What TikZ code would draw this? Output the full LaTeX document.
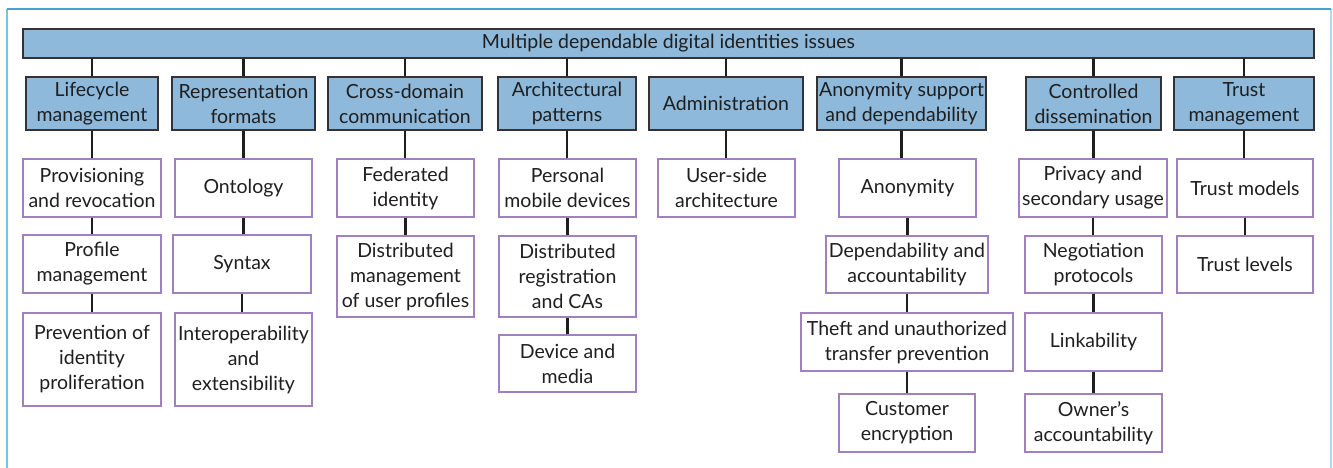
\documentclass[tikz,border=0pt]{standalone}
\usepackage{fontspec}
\setmainfont{Lato}
\definecolor{catfill}{RGB}{142,185,218}
\definecolor{catline}{RGB}{50,50,55}
\definecolor{leafline}{RGB}{160,128,190}
\definecolor{wire}{RGB}{30,30,32}
\definecolor{frametop}{RGB}{70,160,215}
\definecolor{frameside}{RGB}{120,195,230}
\tikzset{
  base/.style={rectangle, inner sep=0pt, align=center, text=black!88,
    font=\fontsize{19.5}{25}\selectfont},
  catbox/.style={base, draw=catline, fill=catfill, line width=1.1pt},
  leafbox/.style={base, draw=leafline, fill=white, line width=1.1pt},
  wirestyle/.style={draw=wire, line width=2.2pt},
}
% box with its corners given: style, name, x1, x2, y1, y2, text
\newcommand\boxat[7]{%
  \node[#1, minimum width={#4-#3}, minimum height={#6-#5}] (#2)
    at ({(#3+#4)/2},{(#5+#6)/2}) {#7};}
\begin{document}
\begin{tikzpicture}[x=1pt,y=-1pt]
\useasboundingbox (0,0) rectangle (1333,468);
% outer frame
\draw[frameside, line width=1.2pt] (7,9) -- (7,470);
\draw[frameside!60, line width=1.2pt] (1331,9) -- (1331,470);
\draw[frametop, line width=1.4pt] (7,9) -- (1331,9);

% root
\boxat{catbox}{root}{23}{1314}{29}{58}{Multiple dependable digital identities issues}

% categories
\boxat{catbox}{lc}{26}{158}{77}{130}{Lifecycle\\management}
\boxat{catbox}{rf}{172}{315}{77}{130}{Representation\\formats}
\boxat{catbox}{cd}{328}{482}{77}{130}{Cross-domain\\communication}
\boxat{catbox}{ap}{498}{636}{77}{130}{Architectural\\patterns}
\boxat{catbox}{ad}{649}{803}{77}{130}{Administration}
\boxat{catbox}{an}{817}{986}{77}{130}{Anonymity support\\and dependability}
\boxat{catbox}{cdis}{1026}{1161}{77}{130}{Controlled\\dissemination}
\boxat{catbox}{tm}{1174}{1314}{77}{130}{Trust\\management}

% issues
\boxat{leafbox}{prov}{23}{161}{159}{217}{Provisioning\\and revocation}
\boxat{leafbox}{prof}{23}{161}{235}{293}{Profile\\management}
\boxat{leafbox}{prev}{23}{161}{313}{406}{Prevention of\\identity\\proliferation}

\boxat{leafbox}{onto}{175}{312}{159}{217}{Ontology}
\boxat{leafbox}{syn}{173}{311}{235}{293}{Syntax}
\boxat{leafbox}{inter}{175}{312}{313}{406}{Interoperability\\and\\extensibility}

\boxat{leafbox}{fed}{337}{474}{159}{217}{Federated\\identity}
\boxat{leafbox}{dist}{337}{474}{236}{317}{Distributed\\management\\of user profiles}

\boxat{leafbox}{pers}{499}{636}{159}{217}{Personal\\mobile devices}
\boxat{leafbox}{dreg}{499}{636}{236}{317}{Distributed\\registration\\and CAs}
\boxat{leafbox}{dev}{499}{636}{335}{392}{Device and\\media}

\boxat{leafbox}{user}{658}{795}{159}{217}{User-side\\architecture}

\boxat{leafbox}{anon}{839}{976}{159}{217}{Anonymity}
\boxat{leafbox}{dep}{826}{988}{236}{293}{Dependability and\\accountability}
\boxat{leafbox}{theft}{801}{1013}{313}{371}{Theft and unauthorized\\transfer prevention}
\boxat{leafbox}{cust}{839}{975}{394}{452}{Customer\\encryption}

\boxat{leafbox}{priv}{1019}{1167}{159}{217}{Privacy and\\secondary usage}
\boxat{leafbox}{neg}{1025}{1162}{236}{293}{Negotiation\\protocols}
\boxat{leafbox}{link}{1025}{1162}{313}{371}{Linkability}
\boxat{leafbox}{own}{1025}{1162}{394}{452}{Owner’s\\accountability}

\boxat{leafbox}{tmod}{1177}{1313}{159}{217}{Trust models}
\boxat{leafbox}{tlev}{1177}{1313}{236}{293}{Trust levels}

% root to categories
\foreach \c in {lc,rf,cd,ap,ad,an,cdis,tm}
  \draw[wirestyle] (\c.north |- root.south) -- (\c.north);

% category chains
\foreach \a/\b in {lc/prov, prov/prof, prof/prev,
                   rf/onto, onto/syn, syn/inter,
                   cd/fed, fed/dist,
                   ap/pers, pers/dreg, dreg/dev,
                   ad/user,
                   an/anon, anon/dep, dep/theft, theft/cust,
                   cdis/priv, priv/neg, neg/link, link/own,
                   tm/tmod, tmod/tlev}
  \draw[wirestyle] (\a.south) -- (\a.south |- \b.north);
\end{tikzpicture}
\end{document}
